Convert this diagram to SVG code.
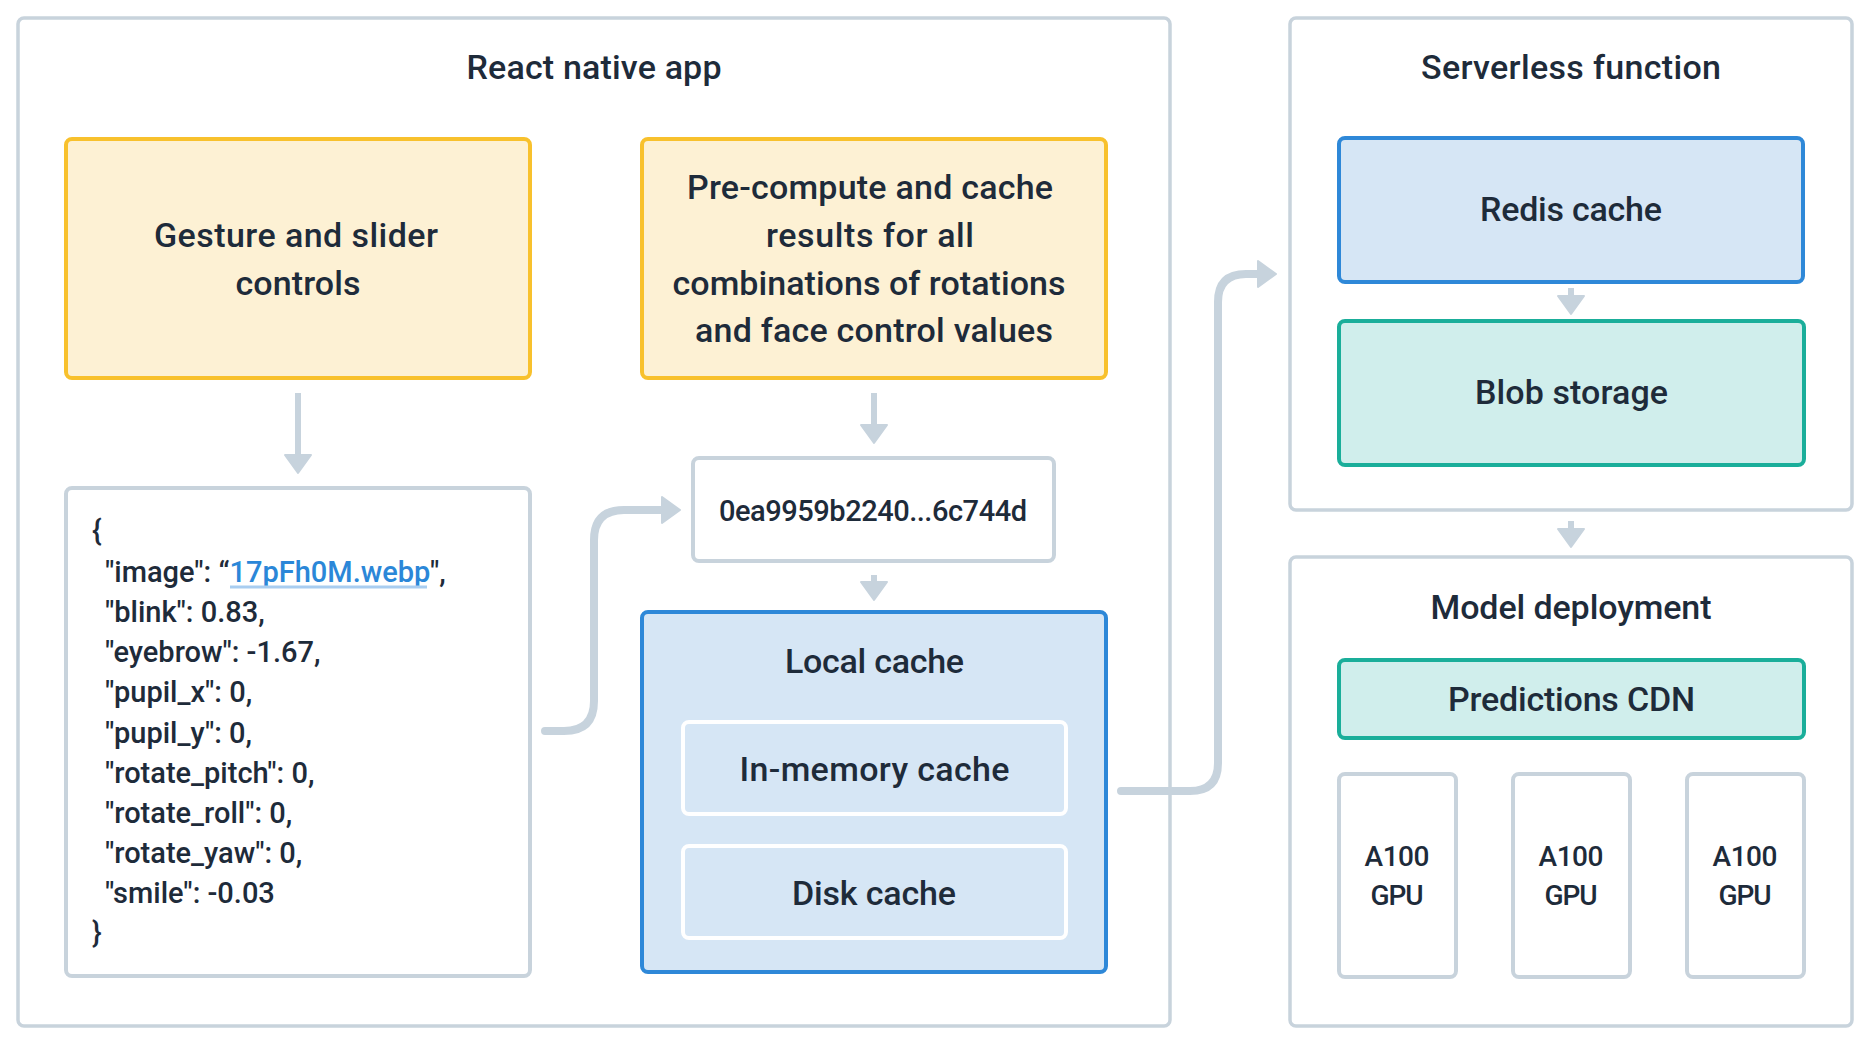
<svg xmlns="http://www.w3.org/2000/svg" width="1870" height="1044" viewBox="0 0 1870 1044">
<defs>
<style>
text{font-family:Roboto,"Liberation Sans",sans-serif;fill:#1e2b3a;font-weight:500;}
.lbl{font-size:34px;text-anchor:middle;}
.json{font-size:29px;}
.gpu{font-size:28px;text-anchor:middle;}
.hash{font-size:29px;text-anchor:middle;}
.cont{fill:#ffffff;stroke:#c8d3dc;stroke-width:3.5;}
.plain{fill:#ffffff;stroke:#c8d3dc;stroke-width:4;}
.yel{fill:#fdf1d4;stroke:#f8c12d;stroke-width:4;}
.blue{fill:#d6e6f5;stroke:#2e88d8;stroke-width:4;}
.teal{fill:#d0eeec;stroke:#1aae9a;stroke-width:4;}
.inner{fill:#d6e6f5;stroke:#ffffff;stroke-width:4;}
.conn{fill:none;stroke:#c7d3dd;stroke-width:8;stroke-linecap:round;stroke-linejoin:round;marker-end:url(#ah);}
.short{fill:none;stroke:#c7d3dd;stroke-width:6;marker-end:url(#ah);}
.link{fill:#2b87d8;}
</style>
<marker id="ah" markerUnits="userSpaceOnUse" markerWidth="22" markerHeight="30" viewBox="-1 -1 22 30" refX="2" refY="13" orient="auto">
<path d="M0,0 L18,13 L0,26 z" fill="#c7d3dd" stroke="#c7d3dd" stroke-width="2" stroke-linejoin="round"/>
</marker>
</defs>

<g id="react-native-app">
<rect class="cont" x="18" y="18" width="1152" height="1008" rx="6"/>
<text class="lbl" x="594" y="79" textLength="255">React native app</text>
</g>

<g id="serverless-function">
<rect class="cont" x="1290" y="18" width="562" height="492" rx="6"/>
<text class="lbl" x="1571" y="79" textLength="300">Serverless function</text>
</g>

<g id="model-deployment">
<rect class="cont" x="1290" y="557" width="562" height="469" rx="6"/>
<text class="lbl" x="1571" y="619" textLength="281">Model deployment</text>
</g>

<g id="gesture-controls">
<rect class="yel" x="66" y="139" width="464" height="239" rx="6"/>
<text class="lbl" x="296" y="247" textLength="284">Gesture and slider</text>
<text class="lbl" x="298" y="295" textLength="125">controls</text>
</g>

<g id="precompute">
<rect class="yel" x="642" y="139" width="464" height="239" rx="6"/>
<text class="lbl" x="870" y="199" textLength="366">Pre-compute and cache</text>
<text class="lbl" x="870" y="247" textLength="208">results for all</text>
<text class="lbl" x="869" y="295" textLength="393">combinations of rotations</text>
<text class="lbl" x="874" y="342" textLength="358">and face control values</text>
</g>

<g id="json-params">
<rect class="plain" x="66" y="488" width="464" height="488" rx="6"/>
<text class="json" x="92" y="541">{</text>
<text class="json" x="105" y="582">"image": “<tspan class="link">17pFh0M.webp</tspan>",</text>
<line x1="230" y1="587" x2="427" y2="587" stroke="#a9cdf0" stroke-width="3"/>
<text class="json" x="105" y="622">"blink": 0.83,</text>
<text class="json" x="105" y="662">"eyebrow": -1.67,</text>
<text class="json" x="105" y="702">"pupil_x": 0,</text>
<text class="json" x="105" y="743">"pupil_y": 0,</text>
<text class="json" x="105" y="783">"rotate_pitch": 0,</text>
<text class="json" x="105" y="823">"rotate_roll": 0,</text>
<text class="json" x="105" y="863">"rotate_yaw": 0,</text>
<text class="json" x="105" y="903">"smile": -0.03</text>
<text class="json" x="92" y="943">}</text>
</g>

<g id="hash-key">
<rect class="plain" x="693" y="458" width="361" height="103" rx="6"/>
<text class="hash" x="873" y="521" textLength="308">0ea9959b2240...6c744d</text>
</g>

<g id="local-cache">
<rect class="blue" x="642" y="612" width="464" height="360" rx="6"/>
<text class="lbl" x="874.5" y="673" textLength="179">Local cache</text>
</g>

<g id="in-memory-cache">
<rect class="inner" x="683" y="722" width="383" height="92" rx="6"/>
<text class="lbl" x="874.5" y="781" textLength="270">In-memory cache</text>
</g>

<g id="disk-cache">
<rect class="inner" x="683" y="846" width="383" height="92" rx="6"/>
<text class="lbl" x="874" y="905" textLength="164">Disk cache</text>
</g>

<g id="redis-cache">
<rect class="blue" x="1339" y="138" width="464" height="144" rx="6"/>
<text class="lbl" x="1571" y="221" textLength="182">Redis cache</text>
</g>

<g id="blob-storage">
<rect class="teal" x="1339" y="321" width="465" height="144" rx="6"/>
<text class="lbl" x="1571.5" y="404" textLength="193">Blob storage</text>
</g>

<g id="predictions-cdn">
<rect class="teal" x="1339" y="660" width="465" height="78" rx="6"/>
<text class="lbl" x="1571.5" y="711" textLength="247">Predictions CDN</text>
</g>

<g id="gpu-1">
<rect class="plain" x="1339" y="774" width="117" height="203" rx="6"/>
<text class="gpu" x="1397" y="866" textLength="65">A100</text>
<text class="gpu" x="1397" y="905" textLength="53">GPU</text>
</g>

<g id="gpu-2">
<rect class="plain" x="1513" y="774" width="117" height="203" rx="6"/>
<text class="gpu" x="1571" y="866" textLength="65">A100</text>
<text class="gpu" x="1571" y="905" textLength="53">GPU</text>
</g>

<g id="gpu-3">
<rect class="plain" x="1687" y="774" width="117" height="203" rx="6"/>
<text class="gpu" x="1745" y="866" textLength="65">A100</text>
<text class="gpu" x="1745" y="905" textLength="53">GPU</text>
</g>

<g id="connectors">
<path class="short" d="M298 393 V457"/>
<path class="short" d="M874 393 V427"/>
<path class="short" d="M874 575 V584"/>
<path class="short" d="M1571 288 V298"/>
<path class="short" d="M1571 521 V531"/>
<path class="conn" d="M545 731 H564 Q594 731 594 701 V540 Q594 510 624 510 H664"/>
<path class="conn" d="M1121 791 H1190 Q1218 791 1218 763 V302 Q1218 274 1246 274 H1260"/>
</g>
</svg>
